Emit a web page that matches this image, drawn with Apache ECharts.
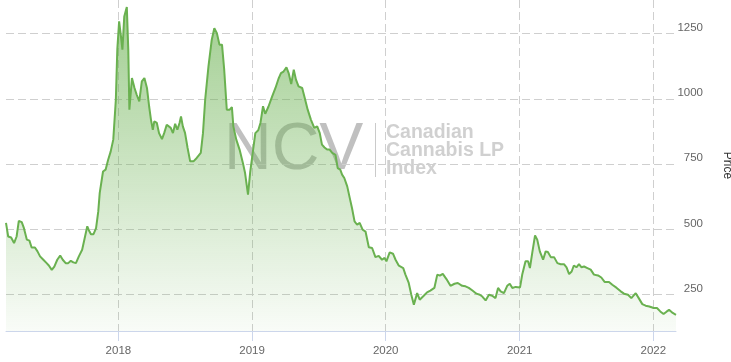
<!DOCTYPE html>
<html><head><meta charset="utf-8">
<script src="https://cdn.jsdelivr.net/npm/echarts@6/dist/echarts.min.js"></script>
<style>html,body{margin:0;padding:0;background:#fff}#c{width:731px;height:362px}</style>
</head><body><div id="c"></div>
<script>
const dates = ['2017-02-28','2017-03-06','2017-03-14','2017-03-22','2017-03-29','2017-04-04','2017-04-12','2017-04-18','2017-04-26','2017-05-03','2017-05-09','2017-05-18','2017-05-25','2017-06-01','2017-06-10','2017-06-19','2017-06-25','2017-07-03','2017-07-10','2017-07-18','2017-07-26','2017-08-02','2017-08-10','2017-08-17','2017-08-24','2017-08-31','2017-09-07','2017-09-15','2017-09-24','2017-10-01','2017-10-08','2017-10-14','2017-10-18','2017-10-25','2017-11-01','2017-11-07','2017-11-11','2017-11-20','2017-11-27','2017-12-04','2017-12-11','2017-12-18','2017-12-25','2017-12-29',
'2018-01-03','2018-01-08','2018-01-12','2018-01-17','2018-01-24','2018-01-28','2018-01-31','2018-02-07','2018-02-14','2018-02-20','2018-02-27','2018-03-06','2018-03-13','2018-03-20','2018-03-26','2018-03-31','2018-04-05','2018-04-09','2018-04-16','2018-04-22','2018-04-30','2018-05-06','2018-05-13','2018-05-18','2018-05-24','2018-05-30','2018-06-05','2018-06-11','2018-06-17','2018-06-21','2018-06-26','2018-07-02','2018-07-09','2018-07-16','2018-07-25','2018-08-03','2018-08-14','2018-08-20','2018-08-26','2018-09-04','2018-09-13','2018-09-20','2018-09-27','2018-10-04','2018-10-11','2018-10-17','2018-10-24','2018-11-01','2018-11-07','2018-11-11','2018-11-19','2018-11-28','2018-12-07','2018-12-13','2018-12-21','2018-12-27',
'2019-01-04','2019-01-10','2019-01-18','2019-01-24','2019-01-31','2019-02-06','2019-02-15','2019-02-25','2019-03-06','2019-03-15','2019-03-21','2019-03-28','2019-04-05','2019-04-11','2019-04-18','2019-04-25','2019-05-01','2019-05-08','2019-05-18','2019-05-25','2019-06-02','2019-06-11','2019-06-20','2019-06-28','2019-07-05','2019-07-11','2019-07-18','2019-07-25','2019-08-01','2019-08-08','2019-08-17','2019-08-23','2019-08-30','2019-09-04','2019-09-10','2019-09-18','2019-09-25','2019-10-01','2019-10-08','2019-10-15','2019-10-22','2019-10-30','2019-11-07','2019-11-16','2019-11-25','2019-12-04','2019-12-13','2019-12-22','2019-12-29',
'2020-01-03','2020-01-12','2020-01-21','2020-01-28','2020-02-06','2020-02-18','2020-02-24','2020-03-04','2020-03-11','2020-03-18','2020-03-27','2020-04-03','2020-04-14','2020-04-23','2020-05-02','2020-05-13','2020-05-21','2020-05-28','2020-06-05','2020-06-15','2020-06-26','2020-07-07','2020-07-16','2020-07-28','2020-08-06','2020-08-15','2020-08-25','2020-09-05','2020-09-14','2020-09-21','2020-09-30','2020-10-09','2020-10-18','2020-10-27','2020-11-03','2020-11-10','2020-11-19','2020-11-28','2020-12-05','2020-12-12','2020-12-21',
'2021-01-02','2021-01-08','2021-01-17','2021-01-24','2021-01-29','2021-02-05','2021-02-12','2021-02-18','2021-02-25','2021-03-06','2021-03-13','2021-03-19','2021-03-27','2021-04-05','2021-04-14','2021-04-23','2021-05-02','2021-05-09','2021-05-16','2021-05-23','2021-05-29','2021-06-05','2021-06-12','2021-06-19','2021-06-26','2021-07-05','2021-07-14','2021-07-23','2021-08-03','2021-08-12','2021-08-21','2021-09-02','2021-09-11','2021-09-23','2021-10-04','2021-10-13','2021-10-24','2021-11-02','2021-11-14','2021-11-23','2021-12-02','2021-12-11','2021-12-21',
'2022-01-02','2022-01-11','2022-01-20','2022-01-29','2022-02-07','2022-02-13','2022-02-23','2022-03-04'];
const prices = [525,473,469,448,473,533,528,505,461,457,431,431,416,397,384,371,362,345,358,384,400,384,371,371,380,374,371,397,422,467,512,492,482,482,505,569,640,722,729,767,799,844,997,1189,
1297,1240,1189,1316,1352,1189,959,1080,1042,1016,991,1067,1080,1042,971,920,882,914,908,869,846,869,901,908,889,869,905,882,908,933,895,870,812,761,761,774,793,869,997,1125,1227,1271,1252,1208,1208,1112,959,959,969,895,844,806,755,716,633,720,
806,869,880,908,972,943,971,1010,1042,1080,1099,1105,1121,1099,1057,1112,1074,1048,1042,1004,959,920,889,895,869,825,814,806,806,793,786,735,729,710,697,665,620,582,531,518,525,499,492,432,429,394,399,384,391,
378,412,407,384,361,352,327,295,250,212,256,231,246,259,266,276,327,323,330,310,284,292,295,284,282,276,266,254,250,243,228,250,246,237,276,263,256,284,292,276,280,
278,327,378,378,352,416,477,461,416,384,416,414,394,394,371,367,367,355,329,339,362,355,367,355,358,352,346,327,324,316,299,299,288,276,263,254,250,237,256,235,214,208,205,
199,199,186,176,186,192,180,173];
const priceTicks = [250,500,750,1000,1250];
const priceMin = 111, priceMax = 1379;
const axisName = 'Price';
const watermarkMain = 'NCV';
const watermarkSub = 'Canadian\nCannabis LP\nIndex';

const P = s => +echarts.number.parseDate(s);
const YEAR = 365 * 24 * 3600 * 1000;
const chart = echarts.init(document.getElementById('c'));
const FONT = '"Liberation Sans", Arial, sans-serif';
chart.setOption({
  animation: false,
  textStyle: {fontFamily: FONT},
  grid: {left: 6, right: 55, top: 0, bottom: 31, outerBoundsMode: 'none'},
  xAxis: {
    type: 'time',
    min: P(dates[0]), max: P(dates[dates.length - 1]),
    minInterval: YEAR, maxInterval: YEAR,
    axisLine: {lineStyle: {color: '#ccd6eb'}},
    axisTick: {show: true, length: 10, lineStyle: {color: '#ccd6eb'}},
    axisLabel: {color: '#666', fontSize: 11.5, margin: 14, showMinLabel: false, showMaxLabel: false,
      formatter: v => String(new Date(v).getFullYear())},
    splitLine: {show: true, showMinLine: false, showMaxLine: false, lineStyle: {color: '#cfcfcf', type: [8, 4]}}
  },
  yAxis: {
    type: 'value', position: 'right',
    min: priceMin, max: priceMax,
    name: axisName, nameLocation: 'middle', nameRotate: -90, nameGap: 45,
    nameTextStyle: {color: '#333', fontSize: 12},
    axisLine: {show: false}, axisTick: {show: false, customValues: priceTicks},
    axisLabel: {customValues: priceTicks, color: '#666', fontSize: 11.5, align: 'right', margin: 27, verticalAlign: 'bottom',
      formatter: v => String(v)},
    splitLine: {show: true, lineStyle: {color: '#cfcfcf', type: [8, 4]}}
  },
  graphic: [
    {type: 'text', left: 224, top: 118, z: 0, silent: true,
      style: {text: watermarkMain, fontSize: 66, fontFamily: FONT, fill: 'rgba(90,90,90,0.38)'}},
    {type: 'line', z: 0, silent: true, shape: {x1: 375.5, y1: 123, x2: 375.5, y2: 177}, style: {stroke: 'rgba(150,150,150,0.5)', lineWidth: 1}},
    {type: 'text', left: 386, top: 123, z: 0, silent: true,
      style: {text: watermarkSub, fontSize: 19.5, fontWeight: 'bold', lineHeight: 18, fontFamily: FONT, fill: 'rgba(150,150,150,0.45)'}}
  ],
  series: [{
    type: 'line', symbol: 'none', z: 3,
    data: dates.map((d, i) => [d, prices[i]]),
    lineStyle: {color: '#6ab150', width: 2},
    areaStyle: {color: new echarts.graphic.LinearGradient(0, 0, 0, 1, [
      {offset: 0, color: 'rgba(106,177,80,0.9)'},
      {offset: 1, color: 'rgba(106,177,80,0.06)'}
    ])}
  }]
});
</script></body></html>
